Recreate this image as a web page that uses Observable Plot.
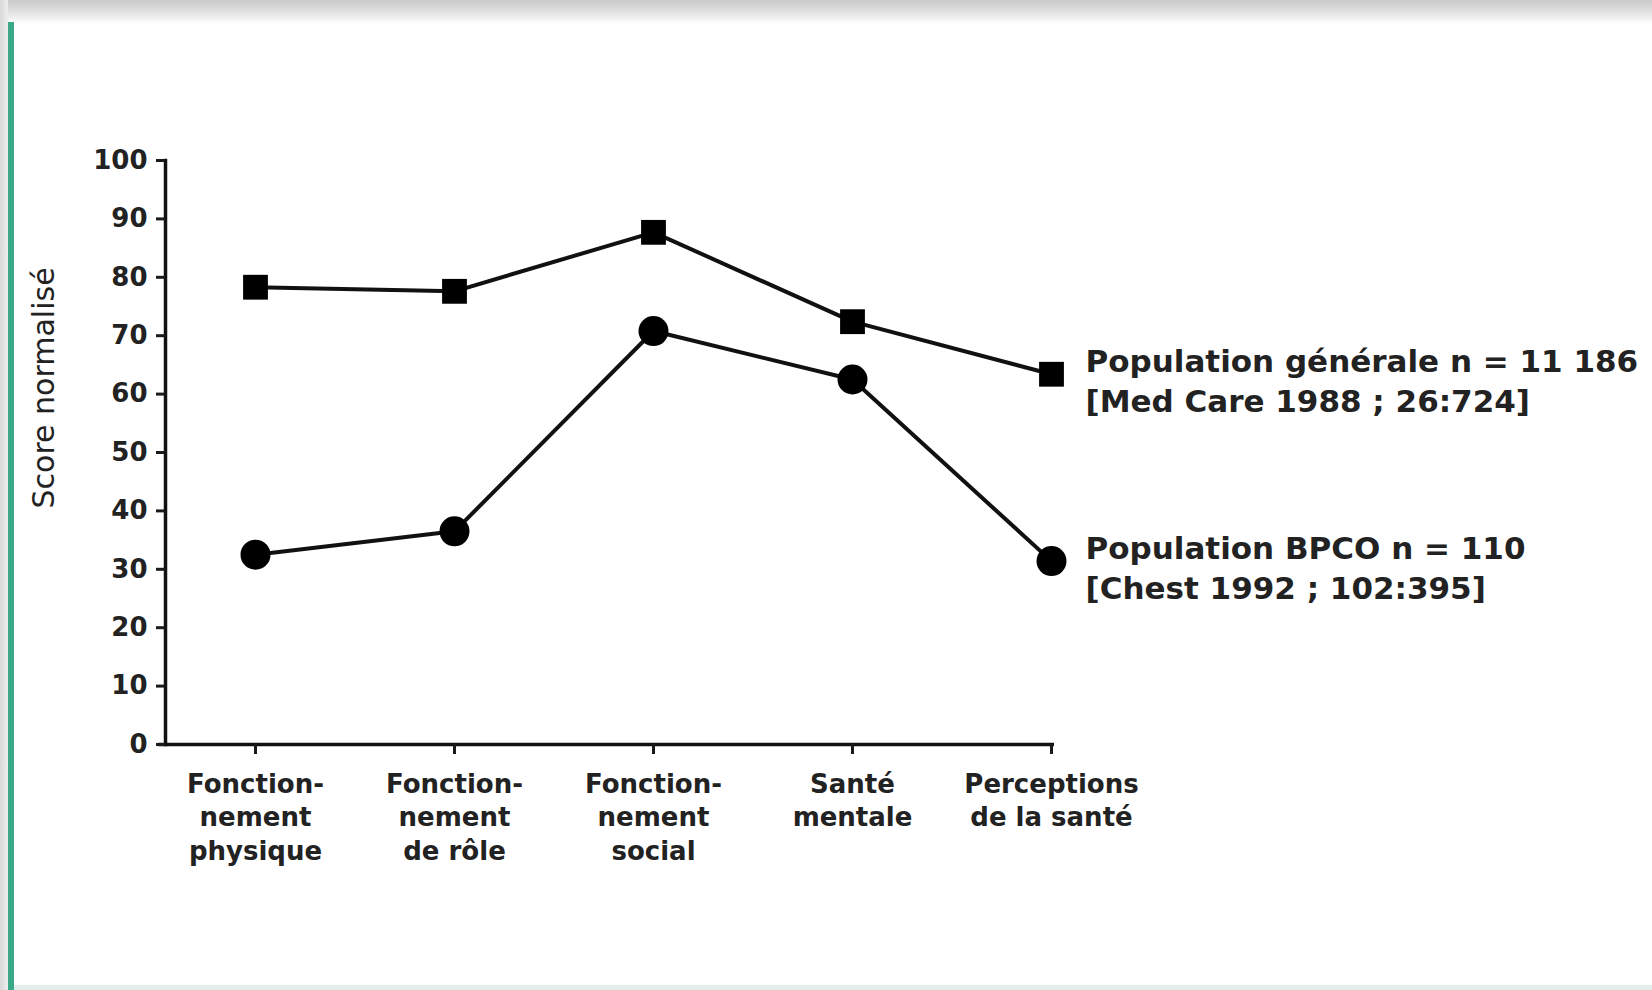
<!DOCTYPE html>
<html>
<head>
<meta charset="utf-8">
<script src="https://cdn.jsdelivr.net/npm/d3@7"></script>
<script src="https://cdn.jsdelivr.net/npm/@observablehq/plot@0.6"></script>
<style>
  html, body { margin: 0; padding: 0; background: #fff; }
  #page { position: relative; width: 1652px; height: 990px; overflow: hidden; background: #fff; }
  #topband { position: absolute; left: 0; top: 0; width: 1652px; height: 24px;
    background: linear-gradient(#c9c9c9 0%, #dedede 45%, #f6f6f6 85%, #fff 100%); }
  #greenline { position: absolute; left: 8px; top: 22px; width: 6px; height: 968px; background: #3aaa86; }
  #leftedge { position: absolute; left: 0; top: 0; width: 8px; height: 990px; background: linear-gradient(90deg,#d8d8d8,#eeeeee); }
  #bottomline { position: absolute; left: 14px; top: 985px; width: 1638px; height: 5px; background: #e3eeea; }
  #chart { position: absolute; left: 0; top: 0; }
</style>
</head>
<body>
<div id="page">
  <div id="topband"></div>
  <div id="leftedge"></div>
  <div id="greenline"></div>
  <div id="bottomline"></div>
  <div id="chart"></div>
</div>
<script>
// ---- data ----
const categories = ["Fonctionnement physique", "Fonctionnement de rôle", "Fonctionnement social", "Santé mentale", "Perceptions de la santé"];
const tickLabels = ["Fonction-\nnement\nphysique", "Fonction-\nnement\nde rôle", "Fonction-\nnement\nsocial", "Santé\nmentale", "Perceptions\nde la santé"];
const generale = [78.3, 77.6, 87.7, 72.4, 63.4];
const bpco = [32.5, 36.5, 70.8, 62.5, 31.4];
const seriesNames = ["Population générale", "Population BPCO"];
const seriesLabels = ["Population générale n = 11 186\n[Med Care 1988 ; 26:724]", "Population BPCO n = 110\n[Chest 1992 ; 102:395]"];
const yTicks = [0, 10, 20, 30, 40, 50, 60, 70, 80, 90, 100];
const yLabel = "Score normalisé";

// ---- table ----
const rows = [];
categories.forEach((c, i) => {
  rows.push({cat: c, value: generale[i], series: seriesNames[0]});
  rows.push({cat: c, value: bpco[i], series: seriesNames[1]});
});
const ends = [
  {cat: categories[categories.length - 1], value: generale[generale.length - 1], label: seriesLabels[0]},
  {cat: categories[categories.length - 1], value: bpco[bpco.length - 1], label: seriesLabels[1]}
];

const font = "DejaVu Sans, Liberation Sans, sans-serif";

const chart = Plot.plot({
  width: 1652,
  height: 990,
  marginTop: 160,
  marginBottom: 246,
  marginLeft: 165,
  marginRight: 601,
  style: {fontFamily: font, background: "transparent", color: "#1a1a1a"},
  x: {type: "point", domain: categories, padding: 0.218, align: 1},
  y: {domain: [0, 100]},
  marks: [
    Plot.frame({anchor: "left", stroke: "#111", strokeWidth: 3.5}),
    Plot.ruleY([0], {stroke: "#111", strokeWidth: 3.5, insetLeft: -7, insetRight: -3}),
    Plot.axisY({ticks: yTicks, tickSize: 9, tickPadding: 9, strokeWidth: 3, fontSize: 26, fontWeight: "bold", label: null, fill: "#222"}),
    Plot.axisX({tickSize: 10, tickPadding: 14, strokeWidth: 3, fontSize: 26, fontWeight: "bold", lineHeight: 1.3, label: null, fill: "#222",
      tickFormat: (d) => tickLabels[categories.indexOf(d)]}),
    Plot.text([yLabel], {frameAnchor: "left", dx: -121, dy: 56, rotate: -90, fontSize: 30, fill: "#222"}),
    Plot.line(rows, {x: "cat", y: "value", z: "series", stroke: "#111", strokeWidth: 4}),
    Plot.dot(rows.filter(d => d.series === seriesNames[0]), {x: "cat", y: "value", symbol: "square", r: 14, fill: "#000"}),
    Plot.dot(rows.filter(d => d.series === seriesNames[1]), {x: "cat", y: "value", symbol: "circle", r: 15, fill: "#000"}),
    Plot.text(ends, {x: "cat", y: "value", text: "label", textAnchor: "start", lineAnchor: "middle", dx: 34, dy: 5, fontSize: 31, fontWeight: "bold", lineHeight: 1.3, fill: "#222"})
  ]
});
document.getElementById("chart").appendChild(chart);
</script>
</body>
</html>
